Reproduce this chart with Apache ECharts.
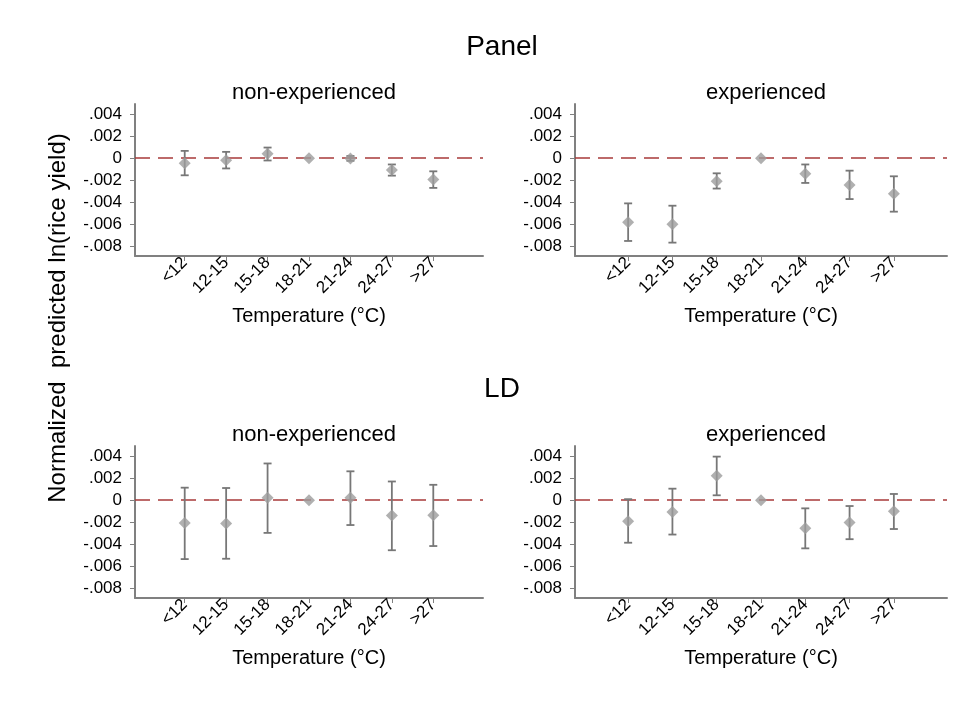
<!DOCTYPE html>
<html>
<head>
<meta charset="utf-8">
<script src="https://cdn.jsdelivr.net/npm/echarts@6/dist/echarts.min.js"></script>
<style>
html,body{margin:0;padding:0;background:#fff;}
#chart{width:974px;height:711px;}
</style>
</head>
<body>
<div id="chart"></div>
<script>
const categories = ['<12','12-15','15-18','18-21','21-24','24-27','>27'];
const yTicks = [-0.008,-0.006,-0.004,-0.002,0,0.002,0.004];
const yTickLabels = ['-.008','-.006','-.004','-.002','0','.002','.004'];

const panelNonExp   = [-0.00045,-0.00018, 0.00039, 0,-0.00002,-0.00107,-0.00194];
const panelNonExpLo = [-0.00155,-0.00093,-0.00021, null,-0.00024,-0.00158,-0.00269];
const panelNonExpHi = [ 0.00066, 0.00057, 0.00096, null, 0.00020,-0.00057,-0.00119];

const panelExp   = [-0.00579,-0.00597,-0.00209, 0,-0.00140,-0.00242,-0.00322];
const panelExpLo = [-0.00749,-0.00764,-0.00275, null,-0.00224,-0.00370,-0.00484];
const panelExpHi = [-0.00409,-0.00430,-0.00137, null,-0.00057,-0.00113,-0.00164];

const ldNonExp   = [-0.00207,-0.00210, 0.00021, 0, 0.00021,-0.00139,-0.00136];
const ldNonExpLo = [-0.00533,-0.00530,-0.00296, null,-0.00225,-0.00453,-0.00415];
const ldNonExpHi = [ 0.00113, 0.00110, 0.00332, null, 0.00261, 0.00169, 0.00139];

const ldExp   = [-0.00190,-0.00107, 0.00222, 0,-0.00255,-0.00201,-0.00101];
const ldExpLo = [-0.00385,-0.00311, 0.00044, null,-0.00436,-0.00353,-0.00261];
const ldExpHi = [ 0.00009, 0.00104, 0.00394, null,-0.00074,-0.00053, 0.00056];

const panels = [
  {est: panelNonExp, lo: panelNonExpLo, hi: panelNonExpHi},
  {est: panelExp, lo: panelExpLo, hi: panelExpHi},
  {est: ldNonExp, lo: ldNonExpLo, hi: ldNonExpHi},
  {est: ldExp, lo: ldExpLo, hi: ldExpHi}
];

const FONT = 'Liberation Sans, Arial, sans-serif';
const axisColor = '#808080';
const grids = [
  {left:135, top:104, width:348, height:152},
  {left:575, top:104, width:372, height:152},
  {left:135, top:446, width:348, height:152},
  {left:575, top:446, width:372, height:152}
];
const idx = categories.map((c,i)=>i);

const xAxes = grids.map((g,i)=>({
  type:'value', gridIndex:i, min:-1.2, max:7.2,
  splitLine:{show:false},
  axisLine:{show:true, onZero:false, lineStyle:{color:axisColor, width:2}},
  axisTick:{show:true, customValues: idx, length:5, lineStyle:{color:axisColor}},
  axisLabel:{customValues: idx, rotate:45, margin:4, color:'#000', fontSize:17, fontFamily:FONT,
    formatter: v => categories[Math.round(v)]},
  name:'Temperature (°C)', nameLocation:'middle', nameGap:50,
  nameTextStyle:{color:'#000', fontSize:20, fontFamily:FONT}
}));
const yAxes = grids.map((g,i)=>({
  type:'value', gridIndex:i, min:-0.00885, max:0.0049,
  splitLine:{show:false},
  axisLine:{show:true, onZero:false, lineStyle:{color:axisColor, width:2}},
  axisTick:{show:true, customValues: yTicks, length:5, lineStyle:{color:axisColor}},
  axisLabel:{customValues: yTicks, margin:13, color:'#000', fontSize:17, fontFamily:FONT,
    formatter: v => { const k = yTicks.findIndex(t => Math.abs(t - v) < 1e-9); return k >= 0 ? yTickLabels[k] : ''; }}
}));

const series = [];
panels.forEach((p,i)=>{
  const ci = [];
  p.lo.forEach((lo,k)=>{ if (lo !== null) ci.push([k, lo, p.hi[k]]); });
  series.push({
    type:'custom', xAxisIndex:i, yAxisIndex:i, z:3,
    data: ci,
    renderItem: function(params, api){
      const top = api.coord([api.value(0), api.value(2)]);
      const bot = api.coord([api.value(0), api.value(1)]);
      const x = top[0], cw = 4;
      const st = {stroke:'#777777', lineWidth:1.8};
      return {type:'group', children:[
        {type:'line', shape:{x1:x, y1:top[1], x2:x, y2:bot[1]}, style:st},
        {type:'line', shape:{x1:x-cw, y1:top[1], x2:x+cw, y2:top[1]}, style:st},
        {type:'line', shape:{x1:x-cw, y1:bot[1], x2:x+cw, y2:bot[1]}, style:st}
      ]};
    },
    markLine:{
      silent:true, symbol:'none', z:1,
      label:{show:false},
      lineStyle:{color:'#a83a3a', type:[15,8], width:1.5},
      data:[{yAxis:0}]
    }
  });
  series.push({
    type:'scatter', xAxisIndex:i, yAxisIndex:i, z:5,
    symbol:'diamond', symbolSize:[12,12],
    itemStyle:{color:'#9c9c9c'},
    data: p.est.map((v,k)=>[k, v])
  });
});

const titles = [
  {text:'Panel', left:497, top:28, textAlign:'center', textStyle:{fontSize:28, fontWeight:'normal', color:'#000', fontFamily:FONT}},
  {text:'LD', left:497, top:370, textAlign:'center', textStyle:{fontSize:28, fontWeight:'normal', color:'#000', fontFamily:FONT}},
  {text:'non-experienced', left:309, top:77, textAlign:'center', textStyle:{fontSize:22, fontWeight:'normal', color:'#000', fontFamily:FONT}},
  {text:'experienced', left:761, top:77, textAlign:'center', textStyle:{fontSize:22, fontWeight:'normal', color:'#000', fontFamily:FONT}},
  {text:'non-experienced', left:309, top:419, textAlign:'center', textStyle:{fontSize:22, fontWeight:'normal', color:'#000', fontFamily:FONT}},
  {text:'experienced', left:761, top:419, textAlign:'center', textStyle:{fontSize:22, fontWeight:'normal', color:'#000', fontFamily:FONT}}
];

const chart = echarts.init(document.getElementById('chart'), null, {renderer:'canvas'});
chart.setOption({
  animation:false,
  backgroundColor:'#fff',
  title: titles,
  grid: grids,
  xAxis: xAxes,
  yAxis: yAxes,
  series: series,
  graphic:[{
    type:'text', x:58, y:318, rotation:Math.PI/2,
    style:{text:'Normalized  predicted ln(rice yield)', fontSize:24, fontFamily:FONT, fill:'#000',
      textAlign:'center', textVerticalAlign:'middle'}
  }]
});
</script>
</body>
</html>
